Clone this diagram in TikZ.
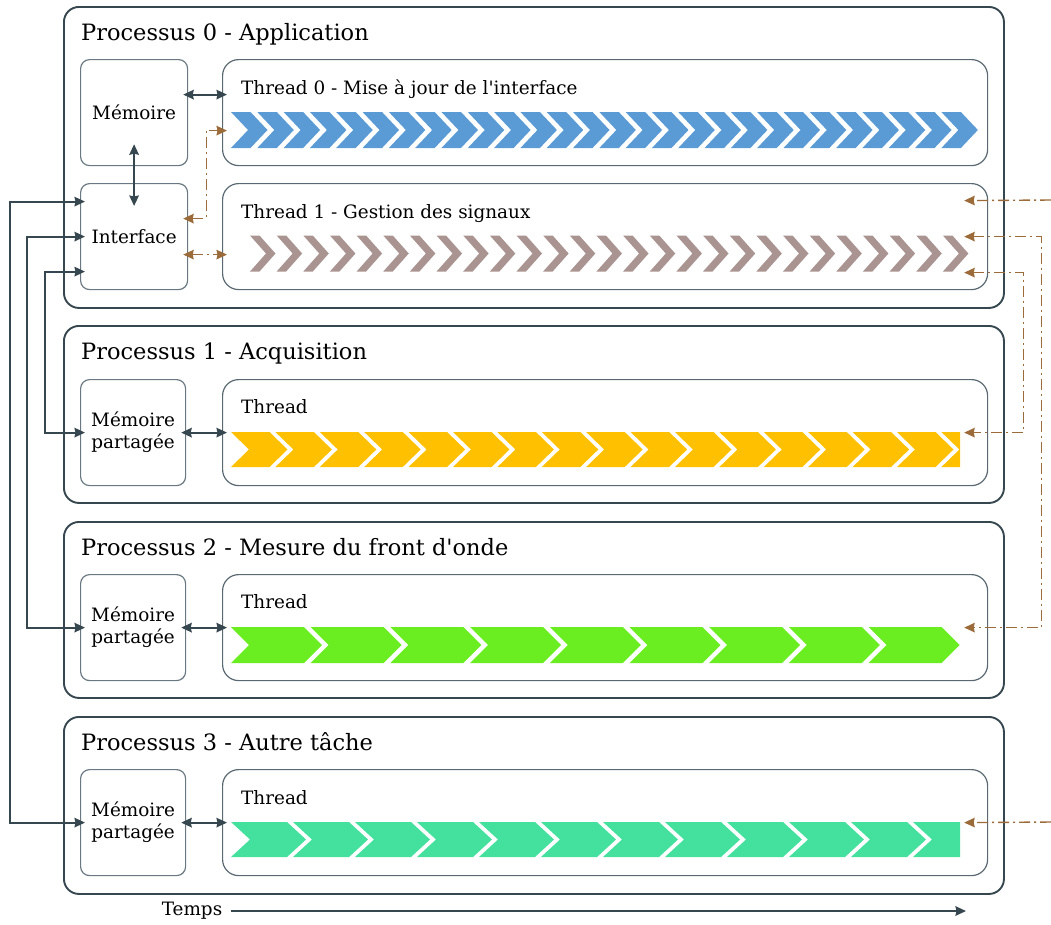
\documentclass[tikz,border=0pt]{standalone}
\usepackage{fontspec}
\setmainfont{DejaVu Serif}
\usetikzlibrary{arrows.meta,calc}
\definecolor{slate}{HTML}{37474F}
\definecolor{boxgray}{HTML}{6A7981}
\definecolor{thgray}{HTML}{5A6971}
\definecolor{brownc}{HTML}{9C6B3A}
\definecolor{cblue}{HTML}{5B9BD5}
\definecolor{ctaupe}{HTML}{AA9491}
\definecolor{cyellow}{HTML}{FFC000}
\definecolor{cgreen}{HTML}{6AEE22}
\definecolor{cteal}{HTML}{44E09E}
\newcommand\chevrons[9]{%
  % #1 colour, #2 x0, #3 ytop, #4 height, #5 period, #6 top width, #7 depth, #8 count, #9 clip x
  \begin{scope}
    \clip (#2-1,#3-1) rectangle (#9,#3+#4+1);
    \foreach \k in {1,...,#8}{%
      \pgfmathsetmacro\xa{#2+(\k-1)*#5}%
      \fill[#1] (\xa,#3) -- ++(#6,0) -- ++(#7,#4/2) -- ++(-#7,#4/2) -- ++(-#6,0) -- ++(#7,-#4/2) -- cycle;
    }
  \end{scope}}
\begin{document}
\begin{tikzpicture}[x=1pt,y=-1pt,
  procbox/.style={draw=slate, line width=1.9pt, rounded corners=15pt, anchor=north west,
    minimum width=940pt, minimum height=#1, inner sep=0pt},
  membox/.style={draw=boxgray, line width=1.2pt, rounded corners=9pt, anchor=north west,
    minimum width=#1, minimum height=106pt, inner sep=0pt, align=center,
    font=\fontsize{18.4}{22}\selectfont},
  thbox/.style={draw=thgray, line width=1.2pt, rounded corners=16pt, anchor=north west,
    minimum width=765pt, minimum height=106pt, inner sep=0pt},
  ttl/.style={anchor=base west, inner sep=0pt, font=\fontsize{22.5}{27}\selectfont},
  thl/.style={anchor=base west, inner sep=0pt, font=\fontsize{18.4}{22}\selectfont},
  tip/.tip={Stealth[length=10.5pt,width=9.5pt,inset=1pt]},
  darr/.style={draw=slate, line width=1.8pt, tip-tip},
  barr/.style={draw=brownc, line width=1.4pt, dash pattern=on 11pt off 4pt on 2pt off 4pt, tip-tip},
  barrone/.style={draw=brownc, line width=1.4pt, dash pattern=on 11pt off 4pt on 2pt off 4pt, -tip},
  inbox/.style={shorten <=-5pt, shorten >=-5pt}
]
\useasboundingbox (0,0) rectangle (1051,924);

% process boxes
\node[procbox=301pt] (p0) at (63,6) {};
\node[procbox=177pt] (p1) at (63,325) {};
\node[procbox=176pt] (p2) at (63,521) {};
\node[procbox=177pt] (p3) at (63,716) {};

\node[ttl] (t0) at (81,40) {Processus 0 - Application};
\node[ttl] (t1) at (81,359) {Processus 1 - Acquisition};
\node[ttl] (t2) at (81,555) {Processus 2 - Mesure du front d\textquotesingle onde};
\node[ttl] (t3) at (81,750) {Processus 3 - Autre tâche};

% inner boxes
\node[membox=107pt] (mem0) at (80,59) {Mémoire};
\node[membox=107pt] (int0) at (80,183) {Interface};
\node[thbox] (th0) at (222,59) {};
\node[thbox] (th1) at (222,183) {};
\node[membox=105pt] (mem1) at (80,379) {Mémoire\\partagée};
\node[thbox] (th1p) at (222,379) {};
\node[membox=105pt] (mem2) at (80,574) {Mémoire\\partagée};
\node[thbox] (th2) at (222,574) {};
\node[membox=105pt] (mem3) at (80,769) {Mémoire\\partagée};
\node[thbox] (th3) at (222,769) {};

\node[thl] (l0) at (241,94) {Thread 0 - Mise à jour de l\textquotesingle interface};
\node[thl] (l1) at (241,218) {Thread 1 - Gestion des signaux};
\node[thl] (l2) at (241,413) {Thread};
\node[thl] (l3) at (241,608) {Thread};
\node[thl] (l4) at (241,804) {Thread};

% chevron strips
\chevrons{cblue}{231}{112}{36}{26.31}{19.5}{17}{28}{980}
\chevrons{ctaupe}{250}{235.5}{36}{26.65}{9.5}{16}{27}{980}
\chevrons{cyellow}{231}{432}{35}{44.4}{38.5}{18}{17}{960}
\chevrons{cgreen}{231}{627}{36}{79.7}{73}{18}{9}{962}
\chevrons{cteal}{231}{822}{35}{62}{56}{19}{12}{960}

% dark connectors
\draw[darr, inbox] ([yshift=18pt]mem0.east) -- ([yshift=18pt]th0.west);
\draw[darr] ([yshift=22pt]mem0.south) -- ([yshift=-23pt]int0.north);
\draw[darr, inbox] (mem1.east) -- (th1p.west);
\draw[darr, inbox] (mem2.east) -- (th2.west);
\draw[darr, inbox] (mem3.east) -- (th3.west);

\draw[darr, inbox] ([yshift=35pt]int0.west) -- ++(-70,0) |- (mem3.west);
\draw[darr, inbox] (int0.west) -- ++(-53,0) |- (mem2.west);
\draw[darr, inbox] ([yshift=-35pt]int0.west) -- ++(-35,0) |- (mem1.west);

% brown signal connectors
\draw[barr, inbox] ([yshift=18pt]int0.east) -- ++(18,0) |- ([yshift=-18pt]th0.west);
\draw[barr, inbox] ([yshift=-18pt]int0.east) -- ([yshift=-18pt]th1.west);

\coordinate (e1) at (1051,200);
\coordinate (e3) at (1051,822);
\draw[barrone] (e1) -- ([xshift=-24pt,yshift=36pt]th1.east);
\draw[barr] ([xshift=-24pt]th1.east) -- ++(77,0) |- ([xshift=-24pt]th2.east);
\draw[barr] ([xshift=-24pt,yshift=-36pt]th1.east) -- ++(59,0) |- ([xshift=-24pt]th1p.east);
\draw[barrone] (e3) -- ([xshift=-24pt]th3.east);

% time axis
\node[anchor=center, inner sep=0pt, font=\fontsize{18.4}{22}\selectfont] (temps) at (192,911) {Temps};
\coordinate (tend) at (966,911);
\draw[draw=slate, line width=1.8pt, -tip] ([xshift=9pt]temps.east) -- (tend);
\end{tikzpicture}
\end{document}
